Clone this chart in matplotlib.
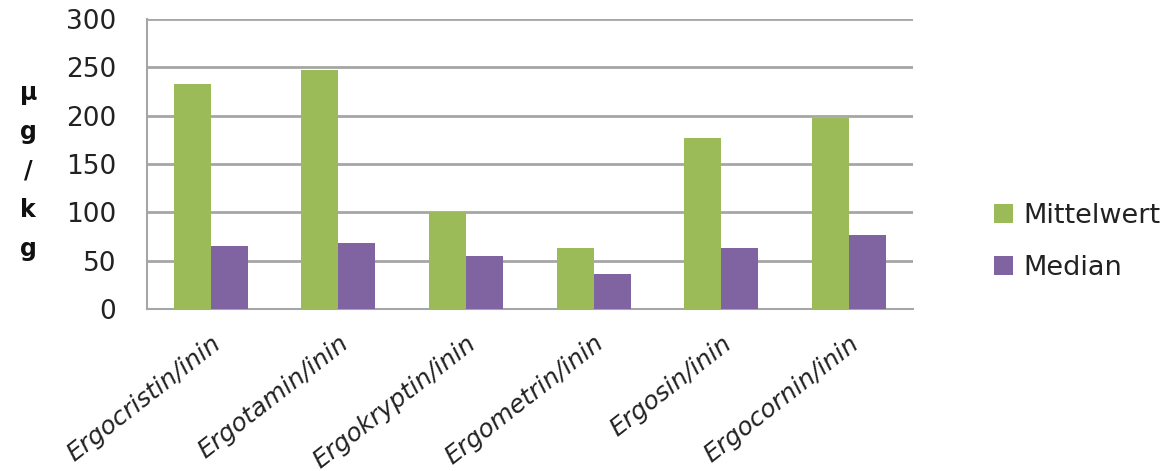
import numpy as np
import matplotlib
import matplotlib.pyplot as plt

matplotlib.use('Agg')

# Data
categories = ["Ergocristin/inin", "Ergotamin/inin", "Ergokryptin/inin",
              "Ergometrin/inin", "Ergosin/inin", "Ergocornin/inin"]
mittelwert = [233, 247, 100, 63, 177, 197]
median = [65, 68, 55, 36, 63, 77]

GREEN = "#9BBB59"
PURPLE = "#8064A2"
GRID = "#A6A6A6"

fig = plt.figure(figsize=(11.76, 4.71), dpi=100)
ax = fig.add_axes([0.125, 0.344, 0.651, 0.616])

x = np.arange(len(categories))
w = 0.29
ax.bar(x - w / 2, mittelwert, w, color=GREEN, label="Mittelwert", zorder=3)
ax.bar(x + w / 2, median, w, color=PURPLE, label="Median", zorder=3)

ax.set_xlim(-0.5, len(categories) - 0.5)
ax.set_ylim(0, 300)
ax.set_yticks(range(0, 301, 50))
ax.yaxis.grid(True, color=GRID, linewidth=2, zorder=0)
ax.set_axisbelow(True)

for side in ("top", "right"):
    ax.spines[side].set_visible(False)
for side in ("left", "bottom"):
    ax.spines[side].set_color(GRID)
    ax.spines[side].set_linewidth(1.5)

ax.tick_params(axis="both", length=0)
ax.tick_params(axis="y", labelsize=19, pad=22, labelcolor="#222222")
ax.set_xticks(x)
ax.set_xticklabels(categories, rotation=38, ha="right", rotation_mode="anchor",
                   fontsize=18, style="italic", color="#222222")
ax.tick_params(axis="x", pad=16)

# vertical stacked y label
fig.text(0.024, 0.637, "µ\ng\n/\nk\ng", ha="center", va="center",
         fontsize=17, fontweight="bold", linespacing=1.78, color="#111111")

ax.legend(loc="center left", bbox_to_anchor=(1.074, 0.23), frameon=False,
          fontsize=19.5, handlelength=0.7, handleheight=0.7, handletextpad=0.4,
          labelspacing=0.95, labelcolor="#222222")

plt.savefig("out.png", dpi=100)
plt.close()
